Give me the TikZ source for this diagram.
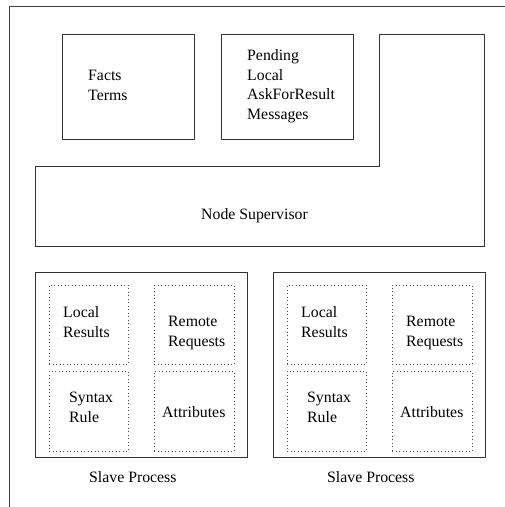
\documentclass[tikz,border=0pt]{standalone}
\usepackage{fontspec}
\setmainfont{Liberation Serif}
\begin{document}
\begin{tikzpicture}[x=1pt,y=-1pt,
  frame/.style={draw=black!75,line width=0.9pt},
  solidbox/.style={draw=black!80,line width=0.9pt,rectangle,inner sep=0pt},
  dotbox/.style={draw=black!70,line width=0.9pt,dash pattern=on 0.9pt off 2.6pt,rectangle,inner sep=0pt},
  lbl/.style={inner sep=0pt,align=left,anchor=base west,font=\fontsize{15.8}{19.7}\selectfont}]
\useasboundingbox (0,0) rectangle (505,507);
% outer frame (cropped at right and bottom)
\coordinate (fa) at (9,520);
\coordinate (fb) at (9,6);
\coordinate (fc) at (520,6);
\draw[frame] (fa) -- (fb) -- (fc);
% top boxes
\node[solidbox,minimum width=132pt,minimum height=105pt] (facts) at (128,86.5) {};
\node[solidbox,minimum width=132pt,minimum height=105pt] (pend) at (287,86.5) {};
\node[lbl] (factst) at (88,100.5) {Facts\\Terms};
\node[lbl] (pendt) at (247,119.5) {Pending\\Local\\AskForResult\\Messages};
% node supervisor
\coordinate (s1) at (35,166);
\coordinate (s2) at (379,166);
\coordinate (s3) at (379,34);
\coordinate (s4) at (484,34);
\coordinate (s5) at (484,246);
\coordinate (s6) at (35,246);
\draw[solidbox] (s1) -- (s2) -- (s3) -- (s4) -- (s5) -- (s6) -- cycle;
\node[lbl] (supt) at (201,219) {Node Supervisor};
% slave processes
\foreach \dx/\n in {0/a,238/b}{
  \begin{scope}[xshift=\dx pt]
  \node[solidbox,minimum width=212pt,minimum height=185pt] (slave\n) at (141,364.5) {};
  \node[dotbox,minimum width=79pt,minimum height=79pt] (lr\n) at (88.5,324.5) {};
  \node[dotbox,minimum width=80pt,minimum height=79pt] (rr\n) at (194,324.5) {};
  \node[dotbox,minimum width=79pt,minimum height=80pt] (sr\n) at (88.5,411) {};
  \node[dotbox,minimum width=80pt,minimum height=80pt] (at\n) at (194,411) {};
  \node[lbl] (lrt\n) at (63,337) {Local\\Results};
  \node[lbl] (rrt\n) at (168,346) {Remote\\Requests};
  \node[lbl] (srt\n) at (69,422) {Syntax\\Rule};
  \node[lbl] (att\n) at (162,417) {Attributes};
  \node[lbl] (spt\n) at (89,482) {Slave Process};
  \end{scope}
}
\end{tikzpicture}
\end{document}
